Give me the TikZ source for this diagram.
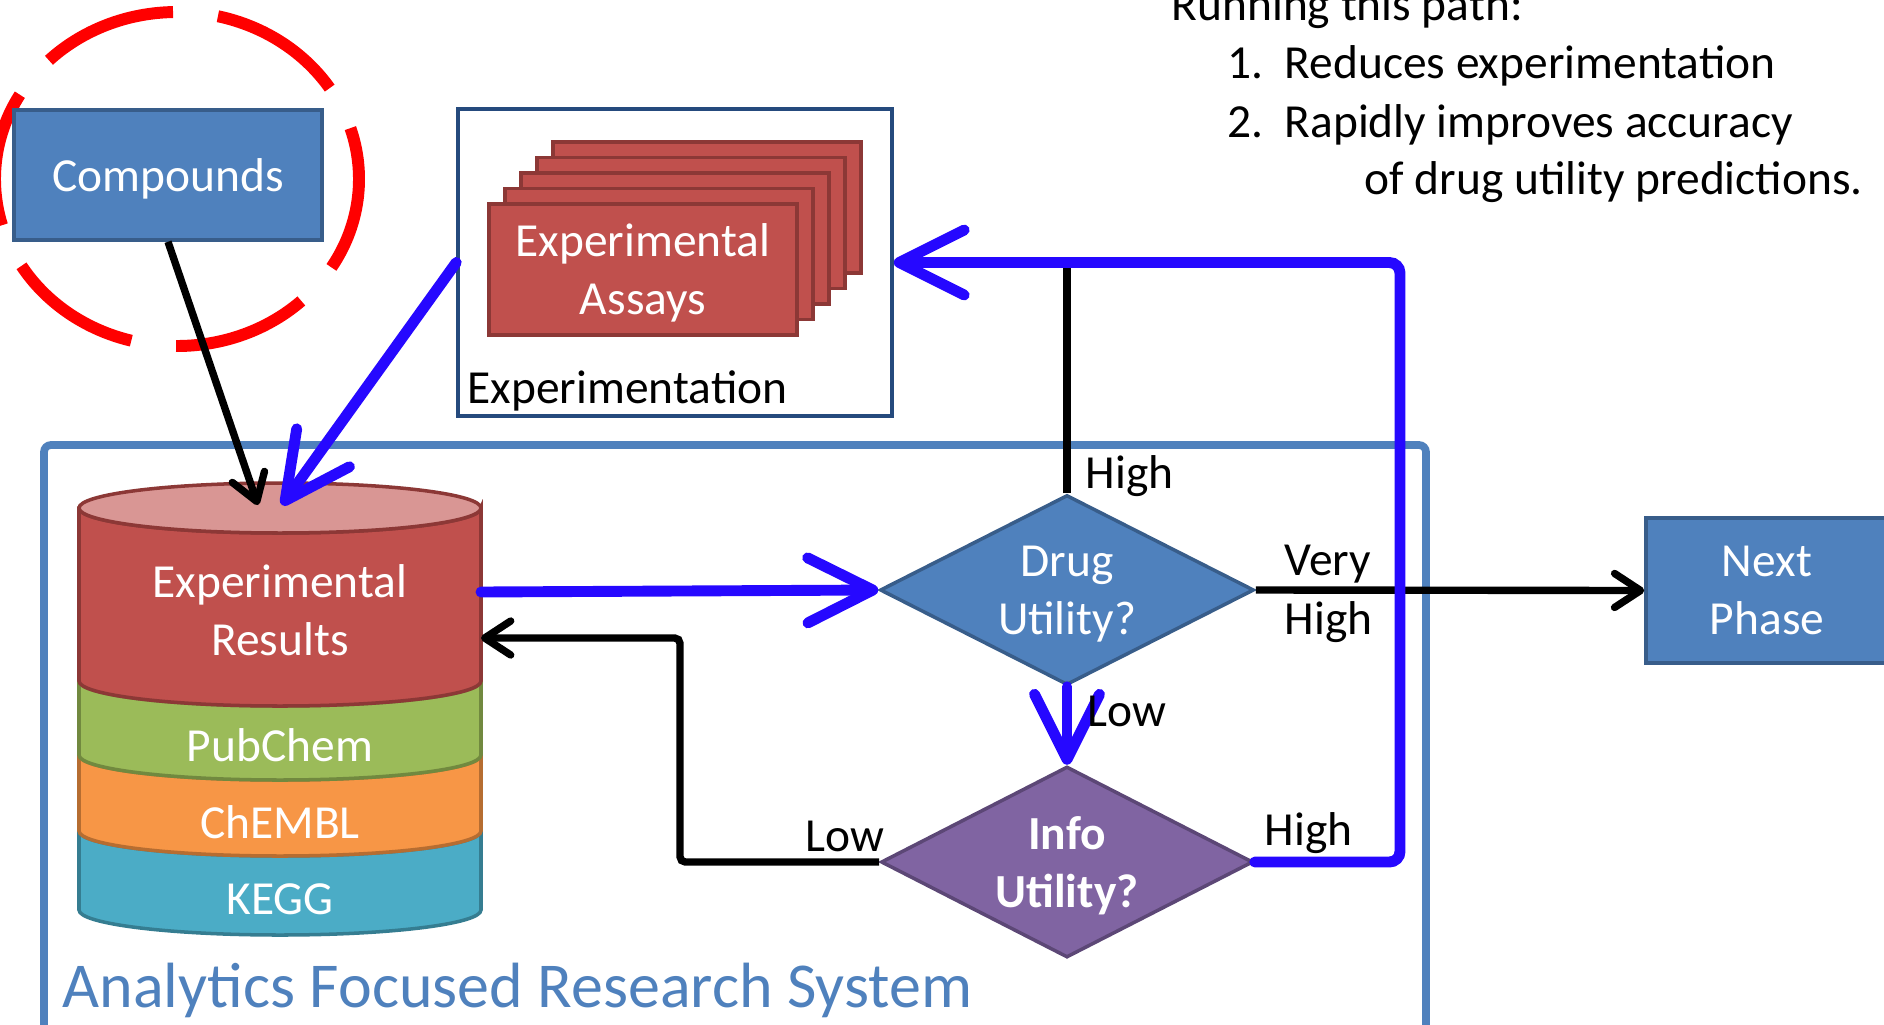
\documentclass[tikz,border=0pt]{standalone}
\usepackage{fontspec}
\setmainfont{Carlito}
\usetikzlibrary{shapes.geometric,arrows.meta}
\definecolor{boxblue}{HTML}{4F81BD}
\definecolor{boxblueline}{HTML}{385D8A}
\definecolor{expline}{HTML}{254A7D}
\definecolor{assayred}{HTML}{C0504D}
\definecolor{assayline}{HTML}{8C3836}
\definecolor{redtop}{HTML}{D99694}
\definecolor{pcgreen}{HTML}{9BBB59}
\definecolor{pcgreenline}{HTML}{71893F}
\definecolor{chorange}{HTML}{F79646}
\definecolor{chorangeline}{HTML}{B66D31}
\definecolor{kgteal}{HTML}{4BACC6}
\definecolor{kgtealline}{HTML}{357D91}
\definecolor{infopurple}{HTML}{8064A2}
\definecolor{infoline}{HTML}{5C4776}
\definecolor{pathcol}{RGB}{38,8,255}
\begin{document}
\begin{tikzpicture}[x=1cm, y=-1cm,
    font=\fontsize{13.5}{16.5}\selectfont,
    bluebox/.style={draw=boxblueline, fill=boxblue, line width=1pt, text=white, align=center, text depth=0pt},
    assaycard/.style={draw=assayline, fill=assayred, line width=1pt, minimum width=3.08cm, minimum height=1.31cm},
    decision/.style={diamond, aspect=2, line width=1pt, text=white, align=center, inner sep=0pt, text depth=0pt},
    pathblue/.style={draw=pathcol, line width=3.1pt, line cap=round, -{Straight Barb[length=6.5mm, width=6.5mm, round]}},
    flowblack/.style={draw=black, line width=2.1pt, rounded corners=1.5pt, -{Straight Barb[length=2.6mm, width=3.4mm, round]}},
    lbl/.style={anchor=west, inner sep=0pt, text depth=0pt},
    notetext/.style={anchor=base west, inner sep=0pt}]
    \clip (0,0) rectangle (18.84,10.24);
    \draw[red, line width=3.4pt, dash pattern=on 13.6mm off 4.52mm, dash phase=4.2mm] (1.77,1.79) ellipse (1.82 and 1.67);
    \node[bluebox, minimum width=3.08cm, minimum height=1.30cm] (compounds) at (1.68,1.75) {Compounds};
    \node[draw=expline, line width=1pt, minimum width=4.34cm, minimum height=3.07cm] (expbox) at (6.75,2.625) {};
    \foreach \k in {4,3,2,1}
        \node[assaycard] (card\k) at ({6.43+0.16*\k},{2.695-0.155*\k}) {};
    \node[assaycard, text=white, align=center, text depth=0pt] (assays) at (6.43,2.695) {Experimental\\Assays};
    \node[lbl] (explabel) at (4.67,3.87) {Experimentation};
    \node[draw=boxblue, line width=2.2pt, rounded corners=2pt, minimum width=13.82cm, minimum height=6.2cm] (afrs) at (7.35,7.55) {};
    \node[lbl, text=boxblue, font=\fontsize{18.2}{22}\selectfont] (afrslabel) at (0.62,9.85) {Analytics Focused Research System};
    \foreach \yb/\yt/\fc/\dc in {9.10/8.31/kgteal/kgtealline, 8.31/7.55/chorange/chorangeline, 7.55/6.81/pcgreen/pcgreenline, 6.81/5.08/assayred/assayline}
        \filldraw[fill=\fc, draw=\dc, line width=1pt] (0.79,\yt) -- (0.79,\yb) arc[start angle=180, end angle=0, x radius=2.01, y radius=0.25] -- (4.81,\yt) arc[start angle=0, end angle=180, x radius=2.01, y radius=0.25] -- cycle;
    \filldraw[fill=redtop, draw=assayline, line width=1pt] (2.80,5.08) ellipse (2.01 and 0.25);
    \node[text=white, align=center] (results) at (2.80,6.10) {Experimental\\Results};
    \node[text=white] (pubchem) at (2.80,7.45) {PubChem};
    \node[text=white] (chembl) at (2.80,8.22) {ChEMBL};
    \node[text=white] (kegg) at (2.80,8.99) {KEGG};
    \coordinate (dbtopa) at (2.58,5.05);
    \coordinate (dbtopb) at (2.82,5.05);
    \coordinate (dbside) at (4.81,5.92);
    \coordinate (dbback) at (4.81,6.38);
    \coordinate (looptop) at (14.00,2.625);
    \coordinate (backturn) at (6.80,7.50);
    \node[decision, fill=boxblue, draw=boxblueline, minimum width=3.74cm, minimum height=1.90cm] (drug) at (10.67,5.90) {Drug\\Utility?};
    \node[decision, fill=infopurple, draw=infoline, minimum width=3.72cm, minimum height=1.91cm, font=\fontsize{13.5}{16.5}\selectfont\bfseries] (info) at (10.67,8.62) {Info\\Utility?};
    \node[bluebox, minimum width=2.42cm, minimum height=1.45cm] (next) at (17.67,5.905) {Next\\Phase};
    \draw[flowblack] (compounds.south) -- (dbtopa);
    \draw[line width=2.1pt] (drug.north) -- (drug.north |- looptop);
    \draw[flowblack] (drug.east) -- (next.west);
    \draw[flowblack] (info.west) -| (backturn) |- (dbback);
    \draw[pathblue] (expbox.west) -- (dbtopb);
    \draw[pathblue] (dbside) -- (drug.west);
    \draw[pathblue] (drug.south) -- (info.north);
    \draw[pathblue, rounded corners=3pt] (info.east) -| (looptop) -- (expbox.east);
    \node[lbl] (highup) at (10.85,4.72) {High};
    \node[lbl] (very) at (12.84,5.60) {Very};
    \node[lbl] (veryhigh) at (12.84,6.18) {High};
    \node[lbl] (lowdown) at (10.87,7.11) {Low};
    \node[lbl] (lowleft) at (8.05,8.36) {Low};
    \node[lbl] (highright) at (12.64,8.29) {High};
    \node[notetext] (note0) at (11.71,0.20) {Running this path:};
    \node[notetext] (note1) at (12.27,0.78) {\makebox[5.7mm][l]{1.}Reduces experimentation};
    \node[notetext] (note2) at (12.27,1.37) {\makebox[5.7mm][l]{2.}Rapidly improves accuracy};
    \node[notetext] (note3) at (13.64,1.94) {of drug utility predictions.};
\end{tikzpicture}
\end{document}
